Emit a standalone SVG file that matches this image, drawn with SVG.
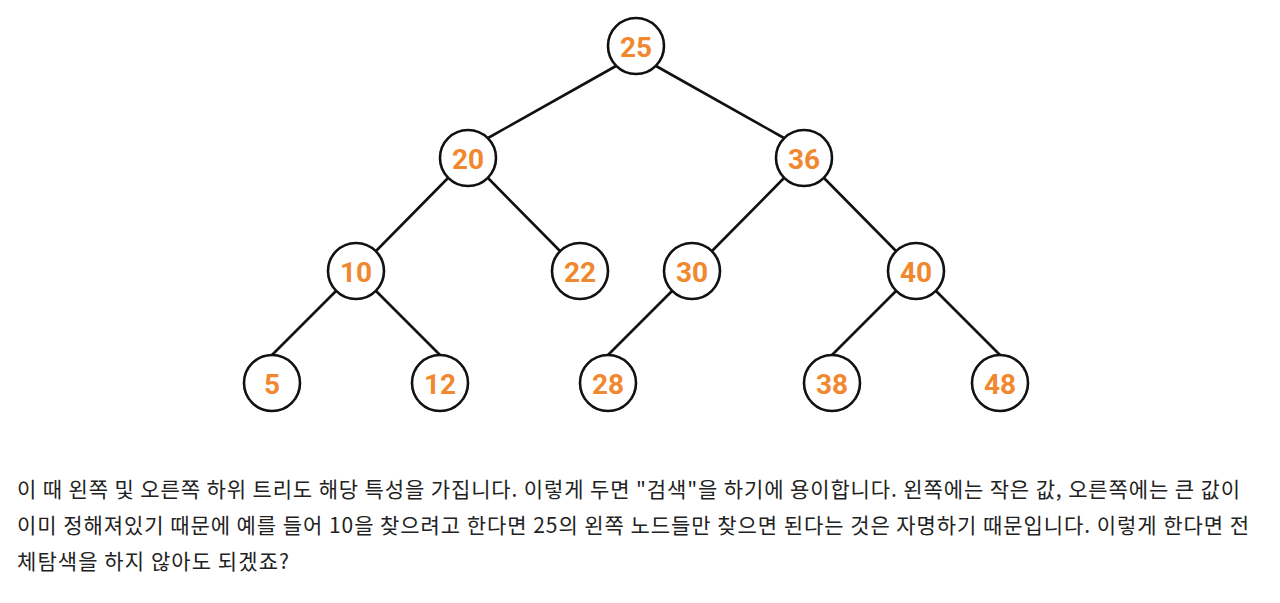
<svg xmlns="http://www.w3.org/2000/svg" width="1280" height="603" viewBox="0 0 1280 603">
<style>
.edge{stroke:#111;stroke-width:2.6;fill:none;stroke-linecap:round}
.node circle{fill:#fff;stroke:#111;stroke-width:2.6}
.node text{font-family:Roboto,"Liberation Sans",Arial,sans-serif;font-weight:bold;font-size:28px;fill:#F0882F;text-anchor:middle;dominant-baseline:central}
.body{font-family:"Noto Sans CJK KR","Noto Sans",sans-serif;font-size:21px;fill:#222}
</style>
<rect width="1280" height="603" fill="#fff"/>
<g id="connectors">
<line class="edge" x1="616" y1="66" x2="488" y2="138"/>
<line class="edge" x1="656" y1="66" x2="784" y2="138"/>
<line class="edge" x1="448" y1="178" x2="376" y2="251"/>
<line class="edge" x1="488" y1="178" x2="560" y2="251"/>
<line class="edge" x1="784" y1="178" x2="712" y2="251"/>
<line class="edge" x1="824" y1="178" x2="896" y2="251"/>
<line class="edge" x1="336" y1="291" x2="272" y2="355"/>
<line class="edge" x1="376" y1="291" x2="440" y2="355"/>
<line class="edge" x1="672" y1="291" x2="608" y2="355"/>
<line class="edge" x1="896" y1="291" x2="832" y2="355"/>
<line class="edge" x1="936" y1="291" x2="1000" y2="355"/>
</g>
<g id="n25" class="node"><circle cx="636" cy="46" r="28"/><text x="636" y="47">25</text></g>
<g id="n20" class="node"><circle cx="468" cy="158" r="28"/><text x="468" y="159">20</text></g>
<g id="n36" class="node"><circle cx="804" cy="158" r="28"/><text x="804" y="159">36</text></g>
<g id="n10" class="node"><circle cx="356" cy="271" r="28"/><text x="356" y="272">10</text></g>
<g id="n22" class="node"><circle cx="580" cy="271" r="28"/><text x="580" y="272">22</text></g>
<g id="n30" class="node"><circle cx="692" cy="271" r="28"/><text x="692" y="272">30</text></g>
<g id="n40" class="node"><circle cx="916" cy="271" r="28"/><text x="916" y="272">40</text></g>
<g id="n5" class="node"><circle cx="272" cy="383" r="28"/><text x="272" y="384">5</text></g>
<g id="n12" class="node"><circle cx="440" cy="383" r="28"/><text x="440" y="384">12</text></g>
<g id="n28" class="node"><circle cx="608" cy="383" r="28"/><text x="608" y="384">28</text></g>
<g id="n38" class="node"><circle cx="832" cy="383" r="28"/><text x="832" y="384">38</text></g>
<g id="n48" class="node"><circle cx="1000" cy="383" r="28"/><text x="1000" y="384">48</text></g>
<g id="caption">
<text class="body" x="17" y="497" textLength="1223">이 때 왼쪽 및 오른쪽 하위 트리도 해당 특성을 가집니다. 이렇게 두면 "검색"을 하기에 용이합니다. 왼쪽에는 작은 값, 오른쪽에는 큰 값이</text>
<text class="body" x="17" y="533" textLength="1232">이미 정해져있기 때문에 예를 들어 10을 찾으려고 한다면 25의 왼쪽 노드들만 찾으면 된다는 것은 자명하기 때문입니다. 이렇게 한다면 전</text>
<text class="body" x="17" y="569" textLength="272">체탐색을 하지 않아도 되겠죠?</text>
</g>
</svg>
